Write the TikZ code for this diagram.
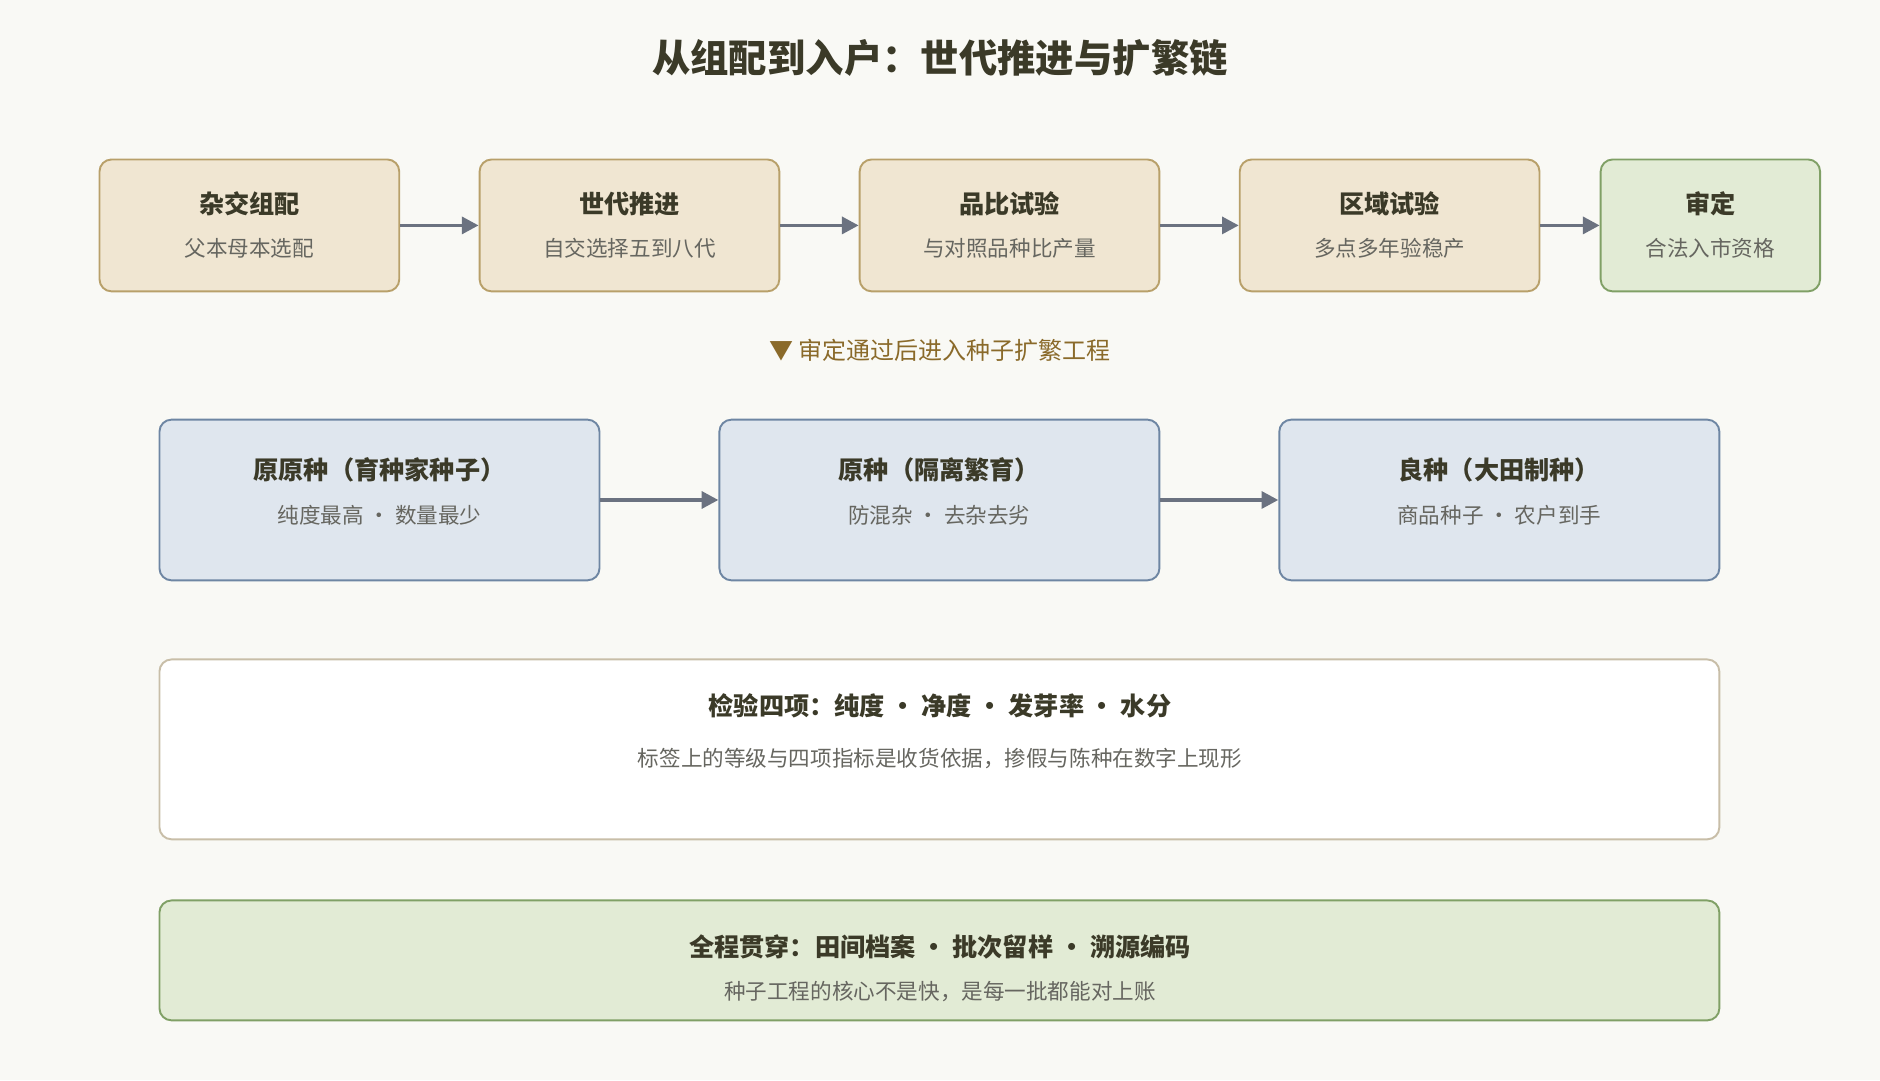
\documentclass[tikz,border=0pt]{standalone}
\usepackage{fontspec}
\setmainfont{Noto Sans CJK SC}
\usetikzlibrary{arrows.meta}
\definecolor{bg}{HTML}{F9F9F5}
\definecolor{tanF}{HTML}{F0E6D2}\definecolor{tanD}{HTML}{B8A06A}
\definecolor{grnF}{HTML}{E2EBD5}\definecolor{grnD}{HTML}{80A066}
\definecolor{bluF}{HTML}{DFE6EE}\definecolor{bluD}{HTML}{6E86A3}
\definecolor{ttl}{HTML}{3B3A28}\definecolor{sub}{HTML}{666660}
\definecolor{arr}{HTML}{6B7280}\definecolor{note}{HTML}{8A6A2A}
\definecolor{wbD}{HTML}{C8BEA8}
\begin{document}
\begin{tikzpicture}[x=0.5pt,y=-0.5pt,
 box/.style={draw,line width=0.8pt,rounded corners=5pt},
 t/.style={font=\bfseries\fontsize{10.5}{12}\selectfont,text=ttl},
 s/.style={font=\fontsize{9}{11}\selectfont,text=sub},
 ar/.style={draw=arr,line width=1.6pt,-{Triangle[length=7pt,width=7pt]}}]
\fill[bg] (0,0) rectangle (1568,901);
\node[font=\bfseries\fontsize{16}{18}\selectfont,text=ttl] (title) at (784,48) {从组配到入户：世代推进与扩繁链};
% row 1
\foreach \n/\a/\b/\ti/\su/\f/\d in {a/83/333/杂交组配/父本母本选配/tanF/tanD, b/400/650/世代推进/自交选择五到八代/tanF/tanD, c/717/967/品比试验/与对照品种比产量/tanF/tanD, d/1034/1284/区域试验/多点多年验稳产/tanF/tanD, e/1335/1518/审定/合法入市资格/grnF/grnD}{
 \node[box,fill=\f,draw=\d,minimum width=(\b-\a)*0.5pt,minimum height=55pt] (\n) at ({(\a+\b)/2},188) {};
 \node[t] (\n t) at ({(\a+\b)/2},170) {\ti};
 \node[s] (\n s) at ({(\a+\b)/2},207) {\su};
}
\draw[ar] (a) -- (b); \draw[ar] (b) -- (c); \draw[ar] (c) -- (d); \draw[ar] (d) -- (e);
\node[font=\fontsize{10}{12}\selectfont,text=note] (note) at (784,292) {▼ 审定通过后进入种子扩繁工程};
% row 2
\foreach \n/\a/\b/\ti/\su in {f/133/500/原原种（育种家种子）/纯度最高 · 数量最少, g/600/967/原种（隔离繁育）/防混杂 · 去杂去劣, h/1067/1434/良种（大田制种）/商品种子 · 农户到手}{
 \node[box,fill=bluF,draw=bluD,minimum width=(\b-\a)*0.5pt,minimum height=67pt] (\n) at ({(\a+\b)/2},417) {};
 \node[t] (\n t) at ({(\a+\b)/2},392) {\ti};
 \node[s] (\n s) at ({(\a+\b)/2},430) {\su};
}
\draw[ar] (f) -- (g); \draw[ar] (g) -- (h);
% inspection
\node[box,fill=white,draw=wbD,minimum width=650.5pt,minimum height=75pt] (i) at (783.5,625) {};
\node[t] (it) at (784,589) {检验四项：纯度 • 净度 • 发芽率 • 水分};
\node[s] (is) at (784,633) {标签上的等级与四项指标是收货依据，掺假与陈种在数字上现形};
\node[box,fill=grnF,draw=grnD,minimum width=650.5pt,minimum height=50pt] (j) at (783.5,801) {};
\node[t] (jt) at (784,790) {全程贯穿：田间档案 • 批次留样 • 溯源编码};
\node[s] (js) at (784,827) {种子工程的核心不是快，是每一批都能对上账};
\end{tikzpicture}
\end{document}
